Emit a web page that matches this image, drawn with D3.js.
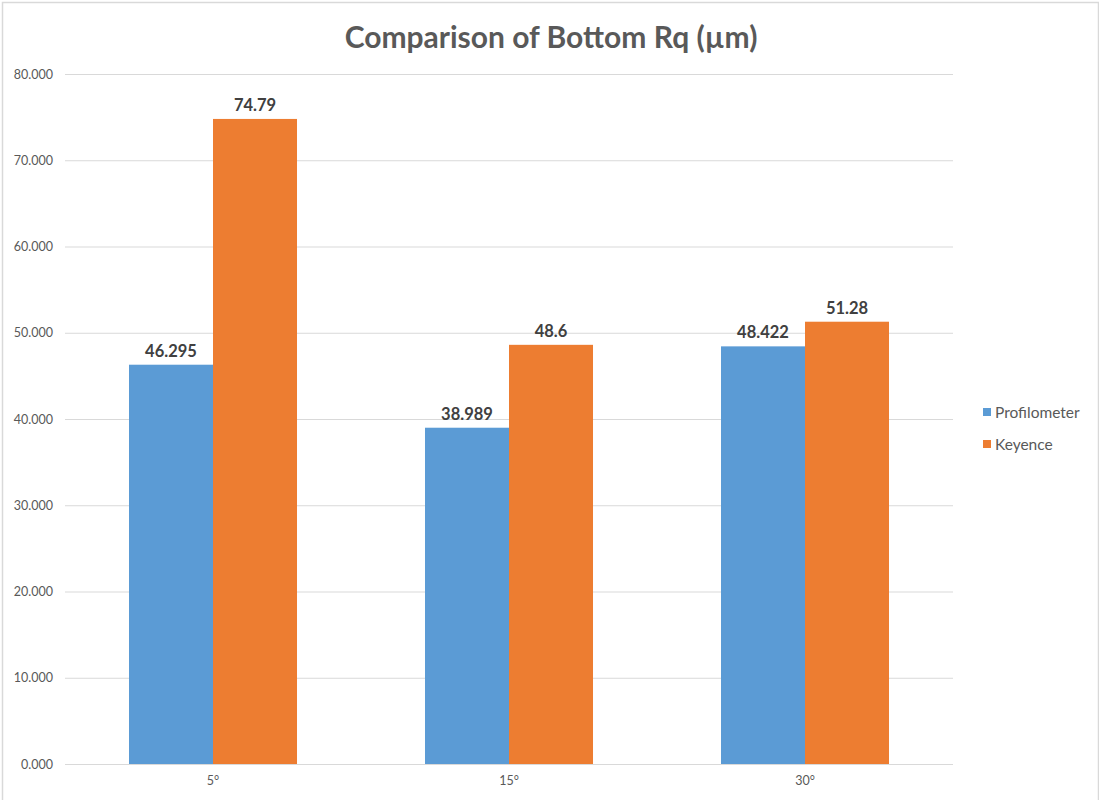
<!DOCTYPE html>
<html>
<head>
<meta charset="utf-8">
<script src="https://cdn.jsdelivr.net/npm/d3@7"></script>
<style>
  html, body { margin: 0; padding: 0; background: #fff; }
  svg { display: block; }
</style>
</head>
<body>
<script>
// Chart data
const categories = ["5°", "15°", "30°"];
const seriesNames = ["Profilometer", "Keyence"];
const profilometer = [46.295, 38.989, 48.422];
const keyence = [74.79, 48.6, 51.28];
const labelText = [["46.295", "38.989", "48.422"], ["74.79", "48.6", "51.28"]];
const yTicks = [0, 10, 20, 30, 40, 50, 60, 70, 80];
const titleText = "Comparison of Bottom Rq (µm)";

const W = 1099, H = 800;
const colors = ["#5B9BD5", "#ED7D31"];
const font = "Lato, 'Open Sans', sans-serif";

const svg = d3.select("body").append("svg").attr("width", W).attr("height", H);

// Chart area frame
svg.append("rect")
  .attr("x", 2.5).attr("y", 2.5).attr("width", W - 3).attr("height", H + 10)
  .attr("fill", "#fff").attr("stroke", "#d9d9d9").attr("stroke-width", 1.5);

const plot = { left: 65, right: 953, top: 74, bottom: 764 };

const y = d3.scaleLinear().domain([0, 80]).range([plot.bottom, plot.top]);
const x0 = d3.scaleBand().domain(categories).range([plot.left, plot.right])
  .paddingInner(0.4324).paddingOuter(0.2162);
const x1 = d3.scaleBand().domain(seriesNames).range([0, x0.bandwidth()]);

// Gridlines
const grid = svg.append("g")
  .attr("transform", `translate(${plot.left},0)`)
  .call(d3.axisLeft(y).tickValues(yTicks).tickSize(-(plot.right - plot.left)).tickFormat(""));
grid.select(".domain").remove();
grid.selectAll("line").attr("stroke", "#d9d9d9").attr("stroke-width", 1);

// Y-axis labels
const yAxis = svg.append("g")
  .attr("transform", `translate(${plot.left},0)`)
  .call(d3.axisLeft(y).tickValues(yTicks).tickSize(0).tickPadding(12).tickFormat(d3.format(".3f")));
yAxis.select(".domain").remove();
yAxis.selectAll("text").attr("font-family", font).attr("font-size", 12.5).attr("fill", "#595959");

// Bars
const data = categories.map((c, i) => ({ cat: c, vals: [profilometer[i], keyence[i]] }));
const groups = svg.append("g").selectAll("g").data(data).join("g")
  .attr("transform", d => `translate(${x0(d.cat)},0)`);
groups.selectAll("rect")
  .data((d, ci) => d.vals.map((v, si) => ({ v, si, ci })))
  .join("rect")
  .attr("x", d => x1(seriesNames[d.si]))
  .attr("width", x1.bandwidth())
  .attr("y", d => y(d.v))
  .attr("height", d => y(0) - y(d.v))
  .attr("fill", d => colors[d.si]);

// Value labels
groups.selectAll("text.val")
  .data((d, ci) => d.vals.map((v, si) => ({ v, si, ci })))
  .join("text")
  .attr("class", "val")
  .attr("x", d => x1(seriesNames[d.si]) + x1.bandwidth() / 2)
  .attr("y", d => y(d.v) - 8)
  .attr("text-anchor", "middle")
  .attr("font-family", font).attr("font-weight", "bold").attr("font-size", 16.5)
  .attr("fill", "#404040")
  .text(d => labelText[d.si][d.ci]);

// X axis line and labels
const xAxis = svg.append("g")
  .attr("transform", `translate(0,${plot.bottom})`)
  .call(d3.axisBottom(x0).tickSize(0).tickPadding(12));
xAxis.select(".domain").attr("stroke", "#d9d9d9").attr("d", `M${plot.left},0.5H${plot.right}`);
xAxis.selectAll("text").attr("font-family", font).attr("font-size", 12.5).attr("fill", "#595959");

// Title
svg.append("text")
  .attr("x", 551).attr("y", 48)
  .attr("text-anchor", "middle")
  .attr("font-family", font).attr("font-weight", "bold").attr("font-size", 30)
  .attr("fill", "#595959")
  .text(titleText);

// Legend
const legend = svg.append("g").selectAll("g").data(seriesNames).join("g")
  .attr("transform", (d, i) => `translate(983,${408 + i * 32})`);
legend.append("rect").attr("width", 8).attr("height", 8).attr("fill", (d, i) => colors[i]);
legend.append("text")
  .attr("x", 12).attr("y", 9.5)
  .attr("font-family", font).attr("font-size", 15.5).attr("fill", "#595959")
  .text(d => d);
</script>
</body>
</html>
